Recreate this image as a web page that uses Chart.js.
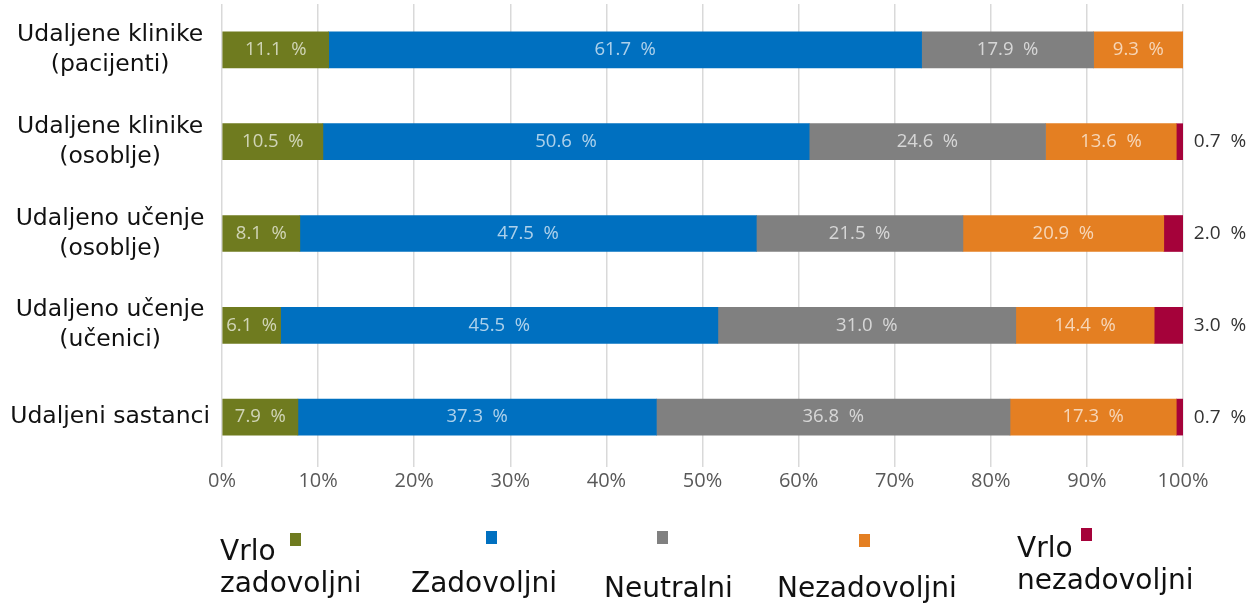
<!DOCTYPE html>
<html>
<head>
<meta charset="utf-8">
<script src="https://cdn.jsdelivr.net/npm/chart.js@4/dist/chart.umd.min.js"></script>
<style>
    html, body { margin: 0; padding: 0; background: #fff; }
    #wrap { width: 1259px; height: 607px; }
</style>
</head>
<body>
<div id="wrap"><canvas id="chart" width="1259" height="607"></canvas></div>
<script>
// ── Dati ─────────────────────────────────────────────────────
var categories = [
    ['Udaljene klinike', '(pacijenti)'],
    ['Udaljene klinike', '(osoblje)'],
    ['Udaljeno učenje', '(osoblje)'],
    ['Udaljeno učenje', '(učenici)'],
    'Udaljeni sastanci'
];
var seriesNames = ['Vrlo zadovoljni', 'Zadovoljni', 'Neutralni', 'Nezadovoljni', 'Vrlo nezadovoljni'];
var legendLines = [['Vrlo', 'zadovoljni'], ['Zadovoljni'], ['Neutralni'], ['Nezadovoljni'], ['Vrlo', 'nezadovoljni']];
var vrloZadovoljni = [11.1, 10.5, 8.1, 6.1, 7.9];
var zadovoljni = [61.7, 50.6, 47.5, 45.5, 37.3];
var neutralni = [17.9, 24.6, 21.5, 31.0, 36.8];
var nezadovoljni = [9.3, 13.6, 20.9, 14.4, 17.3];
var vrloNezadovoljni = [0, 0.7, 2.0, 3.0, 0.7];
var seriesColors = ['#6f7b1f', '#0070c0', '#808080', '#e47f22', '#a5023a'];

// ── Etichette sui segmenti ───────────────────────────────────
var segmentLabels = {
    id: 'segmentLabels',
    afterDatasetsDraw: function (chart) {
        var ctx = chart.ctx;
        ctx.save();
        ctx.textBaseline = 'middle';
        ctx.textAlign = 'center';
        chart.data.datasets.forEach(function (ds, di) {
            var meta = chart.getDatasetMeta(di);
            meta.data.forEach(function (bar, i) {
                var v = ds.data[i];
                if (!v) return;
                var text = v.toFixed(1) + '  %';
                if (di === 4) {
                    // ultima serie: etichetta fuori a destra
                    ctx.font = '19px "Open Sans"';
                    ctx.fillStyle = '#333';
                    ctx.fillText(text, chart.chartArea.right + 37, bar.y);
                } else {
                    ctx.font = '18.5px "Open Sans"';
                    ctx.fillStyle = 'rgba(255,255,255,0.68)';
                    ctx.fillText(text, (bar.base + bar.x) / 2, bar.y);
                }
            });
        });
        ctx.restore();
    }
};

// ── Legenda personalizzata ───────────────────────────────────
var customLegend = {
    id: 'customLegend',
    afterDraw: function (chart) {
        var ctx = chart.ctx;
        // posizioni: testo x, righe y, quadratino x/y
        var layout = [
            { tx: 220, ty: [553, 585], bx: 290, by: 533 },
            { tx: 411, ty: [585], bx: 486, by: 531 },
            { tx: 604, ty: [590], bx: 657, by: 531 },
            { tx: 777, ty: [590], bx: 859, by: 534 },
            { tx: 1017, ty: [550, 582], bx: 1081, by: 528 }
        ];
        ctx.save();
        ctx.font = '28px "DejaVu Sans"';
        ctx.textBaseline = 'middle';
        ctx.textAlign = 'left';
        chart.data.datasets.forEach(function (ds, di) {
            var l = layout[di];
            ctx.fillStyle = ds.backgroundColor;
            ctx.fillRect(l.bx, l.by, 11, 13);
            ctx.fillStyle = '#111';
            legendLines[di].forEach(function (line, k) {
                ctx.fillText(line, l.tx, l.ty[k]);
            });
        });
        ctx.restore();
    }
};

var seriesData = [vrloZadovoljni, zadovoljni, neutralni, nezadovoljni, vrloNezadovoljni];

new Chart(document.getElementById('chart').getContext('2d'), {
    type: 'bar',
    data: {
        labels: categories,
        datasets: seriesNames.map(function (name, i) {
            return {
                label: name,
                data: seriesData[i],
                backgroundColor: seriesColors[i],
                barThickness: 36
            };
        })
    },
    options: {
        indexAxis: 'y',
        responsive: false,
        animation: false,
        layout: { padding: { top: 4, right: 76, bottom: 118, left: 0 } },
        plugins: {
            legend: { display: false },
            tooltip: { enabled: false }
        },
        scales: {
            x: {
                stacked: true,
                min: 0,
                max: 100,
                ticks: {
                    stepSize: 10,
                    color: '#595959',
                    font: { family: 'Open Sans', size: 20 },
                    padding: 2,
                    callback: function (v) { return v + '%'; }
                },
                grid: { color: '#d9d9d9', lineWidth: 1.5, drawTicks: true, tickLength: 4 },
                border: { display: false },
                afterFit: function (scale) {
                    scale.height = 26;
                    scale.paddingLeft = 0;
                    scale.paddingRight = 0;
                }
            },
            y: {
                stacked: true,
                ticks: {
                    color: '#111',
                    font: { family: 'DejaVu Sans', size: 23.5, lineHeight: 1.28 },
                    padding: 12,
                    crossAlign: 'center'
                },
                grid: { display: false, drawTicks: false },
                border: { display: false },
                afterFit: function (scale) {
                    scale.width = 222;
                    // niente spazio extra sopra/sotto per le etichette su due righe
                    scale.paddingTop = 0;
                    scale.paddingBottom = 0;
                }
            }
        }
    },
    plugins: [segmentLabels, customLegend]
});
</script>
</body>
</html>
